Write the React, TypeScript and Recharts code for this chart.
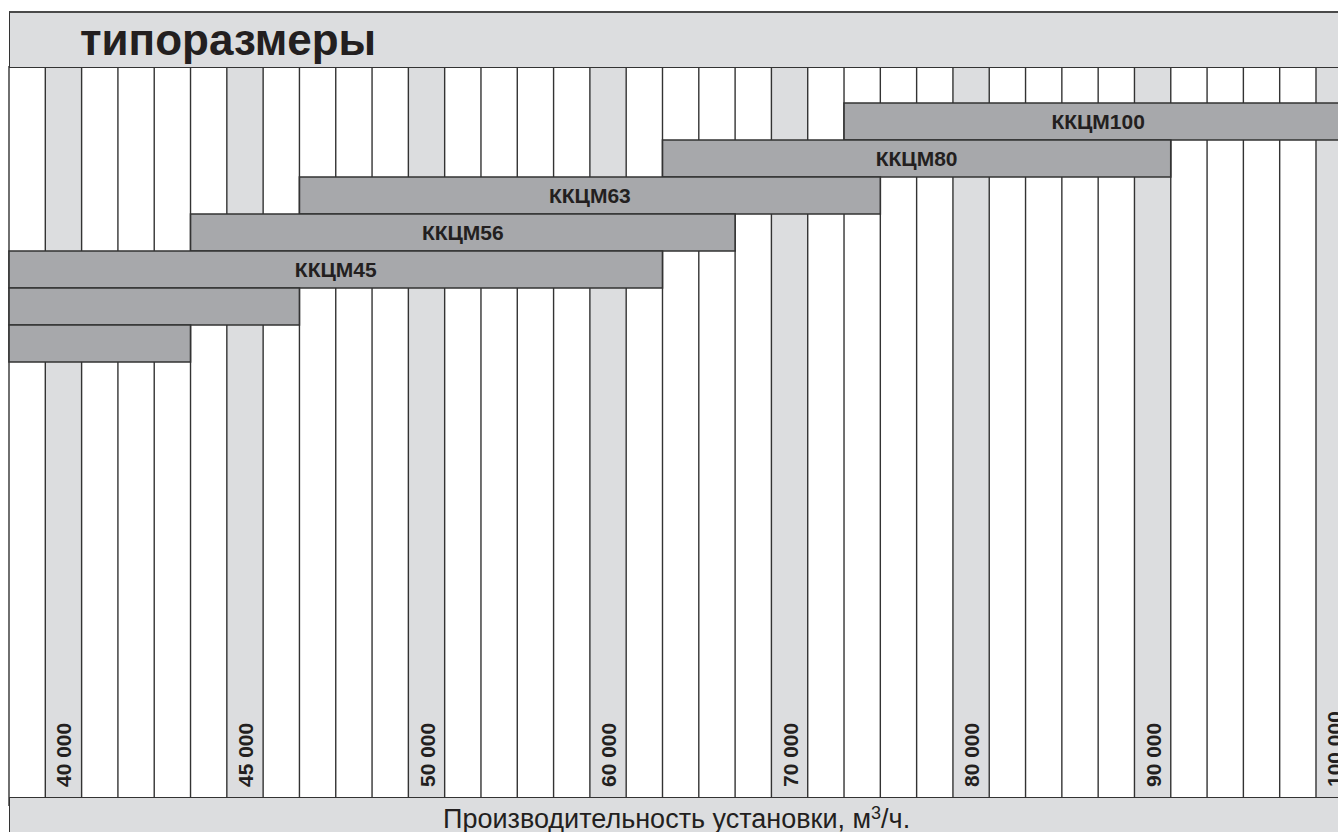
import React from 'react';
import { BarChart, Bar, XAxis, YAxis, ReferenceArea, ReferenceLine, LabelList } from 'recharts';

// --- data (m³/h) ---
const sizeNames = ['ККЦМ100', 'ККЦМ80', 'ККЦМ63', 'ККЦМ56', 'ККЦМ45', '', ''];
const flowFrom = [74000, 64000, 47000, 44000, 39000, 39000, 39000];
const flowTo = [100000, 90000, 74000, 66000, 62000, 46000, 43000];

const tickFlows = [40000, 45000, 50000, 60000, 70000, 80000, 90000, 100000];
const tickLabels = ['40 000', '45 000', '50 000', '60 000', '70 000', '80 000', '90 000', '100 000'];

const ROWS_BEFORE = 1;
const ROWS_AFTER = 12;
const COLUMNS = 38;

// grid column of a flow: 1000 m³/h per column up to 50 000, 2000 above
const colOf = (v: number) => (v <= 50000 ? (v - 39000) / 1000 : 11 + (v - 50000) / 2000);

const LIGHT = '#dcdddf';
const BAR = '#a7a8ab';
const LINE = '#333333';
const INK = '#231f20';
const FONT = '"Liberation Sans", Arial, Helvetica, sans-serif';

const chartData = [
  ...Array.from({ length: ROWS_BEFORE }, (_, i) => ({ row: `top${i}`, name: '', range: null as number[] | null })),
  ...sizeNames.map((name, i) => ({
    row: `size${i}`,
    name,
    range: [colOf(flowFrom[i]), colOf(flowTo[i]) + 1],
  })),
  ...Array.from({ length: ROWS_AFTER }, (_, i) => ({ row: `bottom${i}`, name: '', range: null as number[] | null })),
];

const shadedCols = tickFlows.map((v) => colOf(v));
const edges = Array.from({ length: COLUMNS }, (_, i) => i);

// rotated flow label inside a shaded column, drawn from the column's viewBox
const flowLabel = (text: string) => (props: any) => {
  const vb = props.viewBox || {};
  const cx = vb.x + vb.width / 2;
  const bottom = vb.y + vb.height;
  return (
    <text
      transform={`translate(${cx + 8},${bottom - 19}) rotate(-90)`}
      fill={INK}
      fontSize={21}
      fontWeight="bold"
      fontFamily={FONT}
      textAnchor="start"
    >
      {text}
    </text>
  );
};

export default function App() {
  return (
    <div
      style={{
        position: 'fixed',
        left: 0,
        top: 0,
        width: 1338,
        height: 832,
        overflow: 'hidden',
        background: '#fff',
        fontFamily: FONT,
      }}
    >
      <div style={{ position: 'absolute', left: 0, top: 0 }}>
        <BarChart
          width={1389}
          height={832}
          data={chartData}
          layout="vertical"
          barCategoryGap={0}
          barGap={0}
          margin={{ top: 66, right: 0.4, left: 9, bottom: 26 }}
        >
          <XAxis type="number" domain={[0, COLUMNS]} hide />
          <YAxis type="category" dataKey="row" hide />
          {shadedCols.map((c, i) => (
            <ReferenceArea
              key={`s${c}`}
              x1={c}
              x2={c + 1}
              fill={LIGHT}
              fillOpacity={1}
              stroke="none"
              zIndex={-90}
              label={{ content: flowLabel(tickLabels[i]) }}
            />
          ))}
          {edges.map((c) => (
            <ReferenceLine key={`e${c}`} x={c} stroke={LINE} strokeWidth={1.4} zIndex={-80} />
          ))}
          <Bar dataKey="range" fill={BAR} stroke={LINE} strokeWidth={1.6} isAnimationActive={false}>
            <LabelList
              dataKey="name"
              position="center"
              fill={INK}
              fontSize={21}
              fontWeight="bold"
              fontFamily={FONT}
            />
          </Bar>
        </BarChart>
      </div>

      {/* title band */}
      <div
        style={{
          position: 'absolute',
          left: 8.5,
          top: 10.5,
          width: 1400,
          height: 54,
          background: LIGHT,
          borderTop: `2px solid #4a4a4a`,
          borderLeft: `1.5px solid ${LINE}`,
          borderBottom: `1.5px solid ${LINE}`,
        }}
      />
      <div
        style={{
          position: 'absolute',
          left: 80,
          top: 17.7,
          fontSize: 44,
          lineHeight: '44px',
          fontWeight: 'bold',
          color: INK,
          whiteSpace: 'nowrap',
        }}
      >
        типоразмеры
      </div>

      {/* footer band */}
      <div
        style={{
          position: 'absolute',
          left: 8.5,
          top: 797,
          width: 1400,
          height: 40,
          background: LIGHT,
          borderTop: `1.5px solid ${LINE}`,
          borderLeft: `1.5px solid ${LINE}`,
        }}
      />
      <div
        style={{
          position: 'absolute',
          left: 443,
          top: 806,
          fontSize: 27,
          lineHeight: '27px',
          color: INK,
          whiteSpace: 'nowrap',
        }}
      >
        Производительность установки, м
        <span style={{ fontSize: 18, position: 'relative', top: -9 }}>3</span>/ч.
      </div>
    </div>
  );
}
